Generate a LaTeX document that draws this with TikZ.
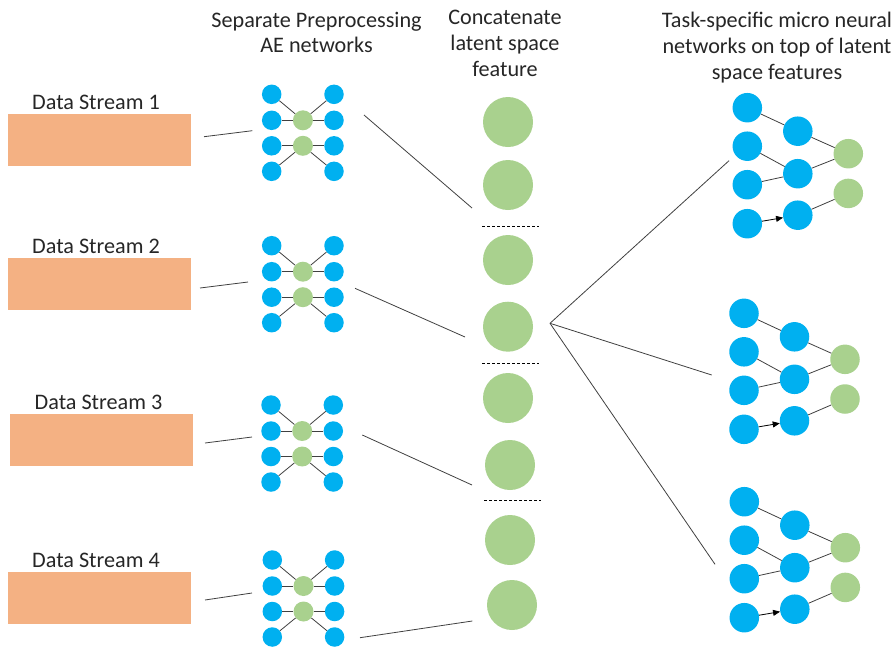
\documentclass[tikz,border=0pt]{standalone}
\usepackage{fontspec}
\setmainfont{Carlito}
\usetikzlibrary{arrows.meta}
\definecolor{nnblue}{HTML}{00B0F0}
\definecolor{nngreen}{HTML}{A9D18E}
\definecolor{streamfill}{HTML}{F4B183}
\definecolor{wire}{HTML}{404040}
\definecolor{txt}{HTML}{262626}

\tikzset{
  bluen/.style={circle, fill=nnblue, inner sep=0pt, minimum size=#1},
  greenn/.style={circle, fill=nngreen, inner sep=0pt, minimum size=#1},
  link/.style={draw=wire, line width=0.8pt},
  lbl/.style={font=\fontsize{22.2}{26}\selectfont, text=txt, inner sep=0pt, anchor=base},
  streambox/.style={fill=streamfill, draw=none},
  sep/.style={draw=black, dashed, dash pattern=on 3pt off 2pt, line width=0.7pt},
}

% autoencoder block: #1 name prefix, (#2,#3) centre of the top-left unit
\newcommand{\aeblock}[3]{%
  \begin{scope}[shift={(#2,#3)}]
    \foreach \r/\yy in {1/0,2/26,3/51.5,4/77} {
      \node[bluen=19.5pt] (#1l\r) at (0,\yy) {};
      \node[bluen=19.5pt] (#1r\r) at (62.3,\yy) {};
    }
    \node[greenn=20pt] (#1g1) at (31.2,26) {};
    \node[greenn=20pt] (#1g2) at (31.2,51.5) {};
    \draw[link] (#1l1) -- (#1g1);
    \draw[link] (#1l2) -- (#1g1);
    \draw[link] (#1g1) -- (#1r1);
    \draw[link] (#1g1) -- (#1r2);
    \draw[link] (#1l3) -- (#1g2);
    \draw[link] (#1l4) -- (#1g2);
    \draw[link] (#1g2) -- (#1r3);
    \draw[link] (#1g2) -- (#1r4);
  \end{scope}}

% task head: #1 name prefix, (#2,#3) centre of the first input unit
\newcommand{\taskhead}[3]{%
  \begin{scope}[shift={(#2,#3)}]
    \foreach \r/\yy in {1/0,2/38.5,3/77,4/116}
      \node[bluen=29.5pt] (#1i\r) at (0,\yy) {};
    \foreach \r/\yy in {1/23.5,2/66,3/107.5}
      \node[bluen=29.5pt] (#1h\r) at (50.5,\yy) {};
    \foreach \r/\yy in {1/46,2/85.7}
      \node[greenn=29.5pt] (#1o\r) at (101,\yy) {};
    \draw[link] (#1i1) -- (#1h1);
    \draw[link] (#1i2) -- (#1h2);
    \draw[link] (#1i3) -- (#1h2);
    \draw[link, -{Triangle[length=7pt,width=6pt]}, draw=black] (#1i4) -- (#1h3);
    \draw[link] (#1h1) -- (#1o1);
    \draw[link] (#1h2) -- (#1o1);
    \draw[link] (#1h3) -- (#1o2);
  \end{scope}}

\begin{document}
\begin{tikzpicture}[x=1pt, y=-1pt]
\useasboundingbox (0,0) rectangle (895,649);

% column headings
\node[lbl] (hA1) at (316.5,27) {Separate Preprocessing};
\node[lbl] (hA2) at (316.5,52) {AE networks};
\node[lbl] (hB1) at (505,24) {Concatenate};
\node[lbl] (hB2) at (505,50) {latent space};
\node[lbl] (hB3) at (505,76) {feature};
\node[lbl] (hC1) at (777,27) {Task-specific micro neural};
\node[lbl] (hC2) at (777,53) {networks on top of latent};
\node[lbl] (hC3) at (777,79) {space features};

% input streams
\foreach \k/\top/\bx/\tx in {1/114/8/96, 2/258/8/96, 3/414/10/98.5, 4/572/8/96} {
  \node[lbl] (ds\k) at (\tx,\top-4.7) {Data Stream \k};
  \path[streambox] (\bx,\top) rectangle (\bx+183,\top+52);
}

% preprocessing autoencoders
\aeblock{a}{271.7}{94.3}
\aeblock{b}{271.7}{245.7}
\aeblock{c}{271}{405}
\aeblock{d}{272.3}{560}

% concatenated latent features
\foreach \k/\xx/\yy in {1/508/122, 2/508/185, 3/508/260, 4/508/326.7,
                        5/508/398, 6/510/465, 7/510/540, 8/512/605}
  \node[greenn=50pt] (z\k) at (\xx,\yy) {};
\draw[sep] (482,226) -- (539,226);
\draw[sep] (482,363) -- (539,363);
\draw[sep] (484,500) -- (541,500);

% task heads
\taskhead{p}{747.3}{107.7}
\taskhead{q}{744}{313.3}
\taskhead{s}{744.3}{501.7}

% free ends of the connectors
\coordinate (s1a) at (204,136.7);  \coordinate (s1b) at (252.3,130.7);
\coordinate (s2a) at (200,288);    \coordinate (s2b) at (248,282);
\coordinate (s3a) at (205,443);    \coordinate (s3b) at (252,437);
\coordinate (s4a) at (205,600);    \coordinate (s4b) at (252,593);
\coordinate (e1a) at (364,115);    \coordinate (e1b) at (472,208);
\coordinate (e2a) at (355,288.3);  \coordinate (e2b) at (465,337);
\coordinate (e3a) at (362.3,435);  \coordinate (e3b) at (472,485);
\coordinate (e4a) at (360,637.7);  \coordinate (e4b) at (472.3,621);
\coordinate (fan) at (550,323.3);
\coordinate (t1) at (729,160.7);
\coordinate (t2) at (711.7,375);
\coordinate (t3) at (715,564.3);

\foreach \k in {1,2,3,4} {
  \draw[link] (s\k a) -- (s\k b);
  \draw[link] (e\k a) -- (e\k b);
}
\draw[link] (fan) -- (t1);
\draw[link] (fan) -- (t2);
\draw[link] (fan) -- (t3);
\end{tikzpicture}
\end{document}
